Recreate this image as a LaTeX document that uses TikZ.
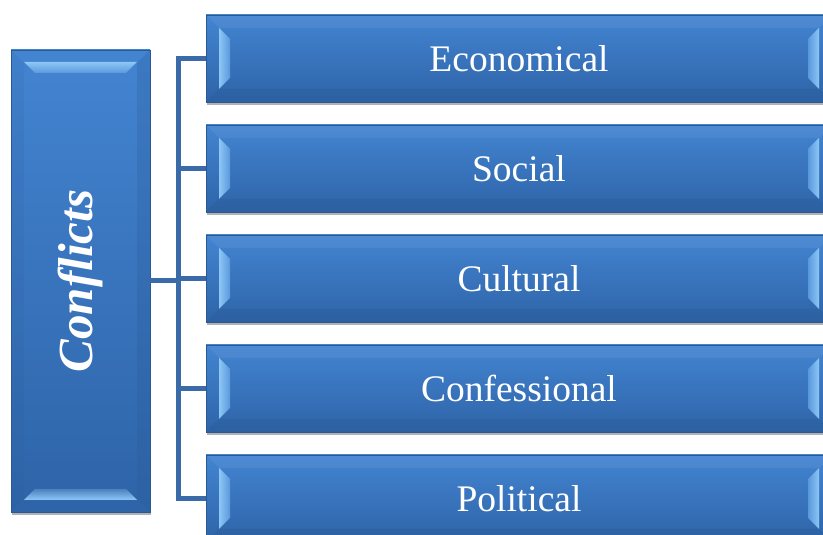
\documentclass[tikz,border=0pt]{standalone}
\usepackage{fontspec}
\setmainfont{Liberation Serif}
\usetikzlibrary{positioning,calc,shadows}
\definecolor{confTop}{HTML}{4384D1}
\definecolor{confBot}{HTML}{2E64A8}
\definecolor{confEdge}{HTML}{2A5A96}
\definecolor{confShine}{HTML}{8DC7F6}
\definecolor{confLink}{HTML}{3A6AA8}

\begin{document}
\begin{tikzpicture}[x=1pt,y=1pt,
  node distance=23pt,
  kind/.style={draw=confEdge,line width=0.8pt,outer sep=0pt,top color=confTop,bottom color=confBot,
    minimum width=626pt,minimum height=87pt,text=white,font=\fontsize{37.5}{40}\selectfont,
    drop shadow={shadow xshift=1pt,shadow yshift=-3pt,opacity=.3,fill=black},
    path picture={
      \fill[confEdge,opacity=.35] (path picture bounding box.south west) -- (path picture bounding box.south east)
        -- ++(-13,13) -- ($(path picture bounding box.south west)+(13,13)$) -- cycle;
      \fill[white,opacity=.06] (path picture bounding box.north west) -- (path picture bounding box.north east)
        -- ++(-13,-13) -- ($(path picture bounding box.north west)+(13,-13)$) -- cycle;
      \shade[left color=confShine,right color=confTop!70!confShine] ($(path picture bounding box.north west)+(13,-13)$) -- ++(11,-11)
        -- ($(path picture bounding box.south west)+(24,24)$) -- ++(-11,-11) -- cycle;
      \shade[right color=confShine,left color=confTop!70!confShine] ($(path picture bounding box.north east)+(-13,-13)$) -- ++(-11,-11)
        -- ($(path picture bounding box.south east)+(-24,24)$) -- ++(11,-11) -- cycle;
    }},
  root/.style={draw=confEdge,line width=0.8pt,outer sep=0pt,top color=confTop,bottom color=confBot,
    minimum width=139pt,minimum height=462pt,
    drop shadow={shadow xshift=1pt,shadow yshift=-3pt,opacity=.3,fill=black},
    path picture={
      \fill[confEdge,opacity=.25] (path picture bounding box.north east) -- (path picture bounding box.south east)
        -- ++(-13,13) -- ($(path picture bounding box.north east)+(-13,-13)$) -- cycle;
      \fill[confEdge,opacity=.12] (path picture bounding box.north west) -- (path picture bounding box.south west)
        -- ++(13,13) -- ($(path picture bounding box.north west)+(13,-13)$) -- cycle;
      \shade[top color=confShine,bottom color=confTop!70!confShine] ($(path picture bounding box.north west)+(13,-12)$) -- ($(path picture bounding box.north east)+(-13,-12)$)
        -- ++(-11,-11) -- ($(path picture bounding box.north west)+(24,-23)$) -- cycle;
      \shade[bottom color=confShine,top color=confBot!70!confShine] ($(path picture bounding box.south west)+(13,12)$) -- ($(path picture bounding box.south east)+(-13,12)$)
        -- ++(-11,11) -- ($(path picture bounding box.south west)+(24,23)$) -- cycle;
    }},
  rootlabel/.style={rotate=90,text=white,font=\fontsize{49}{52}\selectfont\bfseries\itshape},
  link/.style={confLink,line width=5pt}
]
\useasboundingbox (0,0) rectangle (823,535);
\clip (0,0) rectangle (823,535);

\node[root] (conf) at (80.5,254) {};
\node[rootlabel] (conflabel) at (conf.center) {Conflicts};

\node[kind] (b1) at (519,476.5) {Economical};
\node[kind,below=of b1] (b2) {Social};
\node[kind,below=of b2] (b3) {Cultural};
\node[kind,below=of b3] (b4) {Confessional};
\node[kind,below=of b4] (b5) {Political};

\coordinate[right=28pt of conf.east] (hub);
\draw[link] (conf.east) -- (hub);
\foreach \i in {1,...,5}
  \draw[link] (hub) |- (b\i.west);
\end{tikzpicture}
\end{document}
